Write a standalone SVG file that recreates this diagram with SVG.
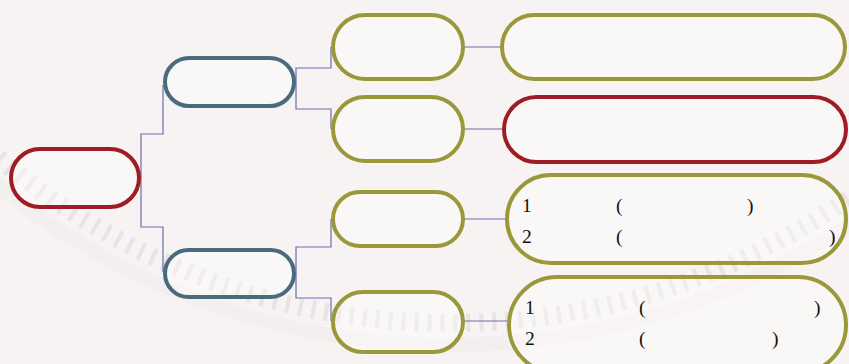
<svg xmlns="http://www.w3.org/2000/svg" width="849" height="364" viewBox="0 0 849 364">
<style>
.n{fill:#ffffff;fill-opacity:0.35;stroke-width:4}
.red{stroke:#a01c24}
.blue{stroke:#4a6b7e}
.olive{stroke:#9a983a}
.c{fill:none;stroke:#6e6cae;stroke-width:1.2}
.t{font-family:"Liberation Serif","Times New Roman",serif;font-size:19.5px;fill:#111}
</style>
<rect x="0" y="0" width="849" height="364" fill="#f7f3f3"/>
<circle cx="450" cy="-377" r="700" fill="none" stroke="#e6dfdf" stroke-width="18" stroke-dasharray="4 9" opacity="0.85"/>
<circle cx="450" cy="-377" r="722" fill="none" stroke="#f1ecec" stroke-width="14" opacity="0.6"/>
<g id="connectors">
<path class="c" d="M141,178 V134 H163 V85"/>
<path class="c" d="M141,178 V227 H163 V272"/>
<path class="c" d="M294,82 H296 V68 H331 V47"/>
<path class="c" d="M294,82 H296 V109 H331 V129"/>
<path class="c" d="M294,273 H296 V247 H331 V219"/>
<path class="c" d="M294,273 H296 V298 H331 V321"/>
<path class="c" d="M463,47 H502"/>
<path class="c" d="M463,129 H504"/>
<path class="c" d="M463,219 H507"/>
<path class="c" d="M463,321 H509"/>
</g>
<g id="root"><rect class="n red" x="11" y="149" width="128" height="58" rx="29"/></g>
<g id="b1"><rect class="n blue" x="165" y="58" width="129" height="48" rx="24"/></g>
<g id="b2"><rect class="n blue" x="165" y="250" width="129" height="47" rx="23.5"/></g>
<g id="o1"><rect class="n olive" x="333" y="15" width="130" height="64" rx="32"/></g>
<g id="o2"><rect class="n olive" x="333" y="97" width="130" height="64" rx="32"/></g>
<g id="o3"><rect class="n olive" x="333" y="192" width="130" height="54" rx="27"/></g>
<g id="o4"><rect class="n olive" x="333" y="292" width="130" height="60" rx="30"/></g>
<g id="l1"><rect class="n olive" x="502" y="15" width="343" height="64" rx="32"/></g>
<g id="l2"><rect class="n red" x="504" y="97" width="342" height="65" rx="32.5"/></g>
<g id="l3"><rect class="n olive" x="507" y="175" width="339" height="88" rx="44"/>
<text class="t" x="522" y="212">1</text><text class="t" x="616" y="212">(</text><text class="t" x="747" y="212">)</text>
<text class="t" x="522" y="243">2</text><text class="t" x="616" y="243">(</text><text class="t" x="829" y="243">)</text>
</g>
<g id="l4"><rect class="n olive" x="509" y="277" width="337" height="96" rx="48"/>
<text class="t" x="525" y="314">1</text><text class="t" x="639" y="314">(</text><text class="t" x="814" y="314">)</text>
<text class="t" x="525" y="345">2</text><text class="t" x="639" y="345">(</text><text class="t" x="772" y="345">)</text>
</g>
</svg>
